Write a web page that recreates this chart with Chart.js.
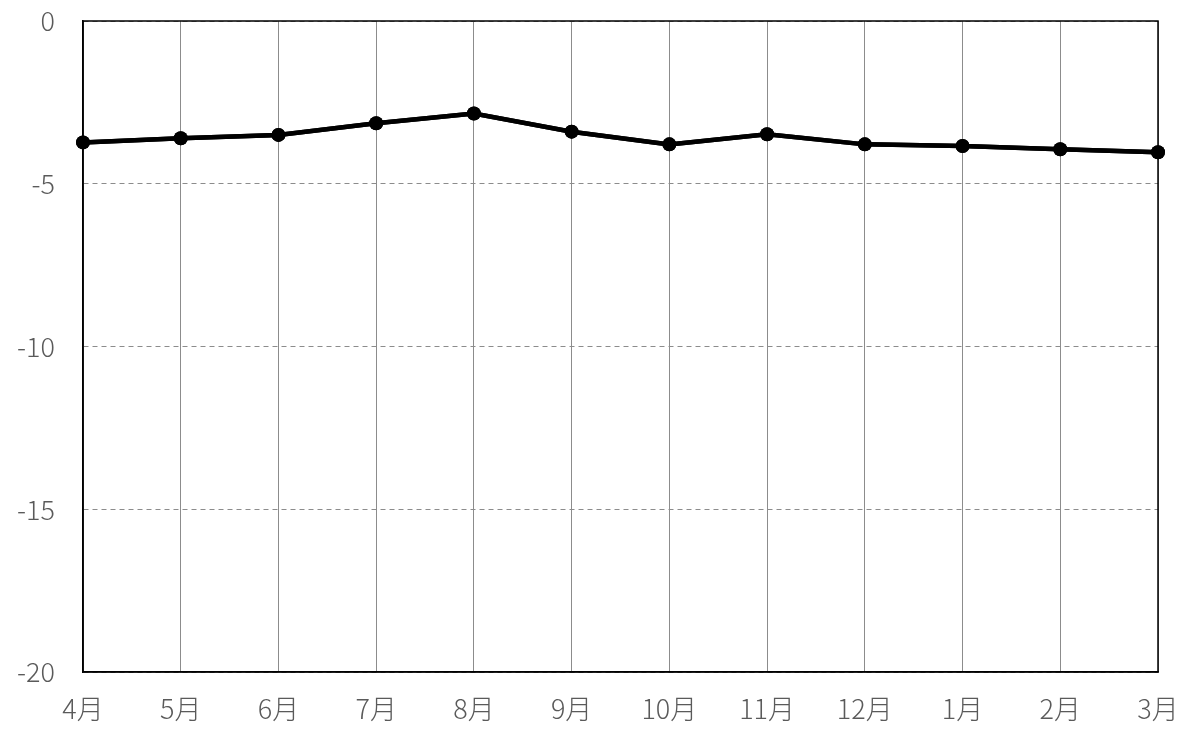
<!DOCTYPE html>
<html>
<head>
<meta charset="utf-8">
<script src="https://cdn.jsdelivr.net/npm/chart.js@4/dist/chart.umd.min.js"></script>
<style>
html,body{margin:0;padding:0;background:#fff;}
#wrap{width:1190px;height:731px;position:relative;}
</style>
</head>
<body>
<div id="wrap"><canvas id="c" width="1190" height="731"></canvas></div>
<script>
const categories = ['4月','5月','6月','7月','8月','9月','10月','11月','12月','1月','2月','3月'];
const values = [-3.73, -3.60, -3.50, -3.14, -2.84, -3.40, -3.79, -3.48, -3.79, -3.84, -3.94, -4.03];
const yMin = -20, yMax = 0, yStep = 5;

const FONT = '"Noto Sans CJK JP", "Noto Sans", sans-serif';
const TEXT = '#5a5a5a';

const framePlugin = {
  id: 'frame',
  afterDraw(chart) {
    const a = chart.chartArea, ctx = chart.ctx;
    ctx.save();
    ctx.strokeStyle = '#000';
    ctx.lineWidth = 1.5;
    ctx.strokeRect(a.left, a.top, a.right - a.left, a.bottom - a.top);
    ctx.restore();
    chart.getDatasetMeta(0).controller.draw();
  }
};

new Chart(document.getElementById('c'), {
  type: 'line',
  data: {
    labels: categories,
    datasets: [{
      data: values,
      borderColor: '#000',
      backgroundColor: '#000',
      borderWidth: 4.5,
      pointRadius: 7,
      pointBorderWidth: 0,
      pointBackgroundColor: '#000',
      tension: 0,
      clip: false
    }]
  },
  options: {
    responsive: false,
    animation: false,
    layout: { padding: { top: 21, right: 32, left: 0, bottom: 0 } },
    plugins: { legend: { display: false }, tooltip: { enabled: false } },
    scales: {
      x: {
        offset: false,
        grid: { color: '#8c8c8c', lineWidth: 1, drawTicks: false },
        border: { color: '#000', width: 1.5 },
        ticks: { color: TEXT, font: { family: FONT, size: 27, weight: 300 }, padding: 21, maxRotation: 0, autoSkip: false },
        afterFit(s) { s.height = 59; s.paddingLeft = 0; s.paddingRight = 0; }
      },
      y: {
        min: yMin, max: yMax,
        grid: { color: '#8c8c8c', lineWidth: 1, drawTicks: false },
        border: { color: '#000', width: 1.5, dash: [5, 4] },
        ticks: { stepSize: yStep, color: TEXT, font: { family: FONT, size: 27, weight: 300 }, padding: 28 },
        afterFit(s) { s.width = 83; s.paddingTop = 0; s.paddingBottom = 0; }
      }
    }
  },
  plugins: [framePlugin]
});
</script>
</body>
</html>
